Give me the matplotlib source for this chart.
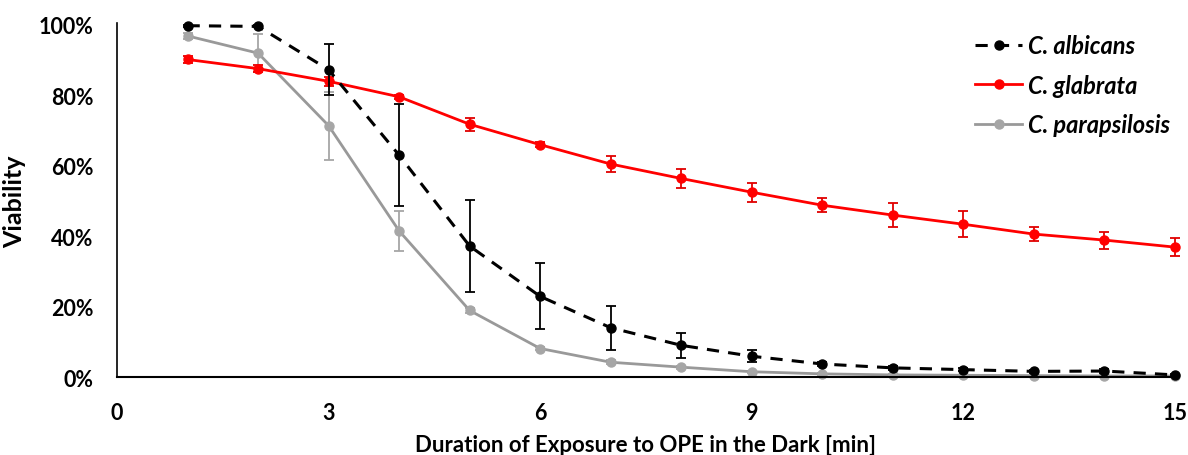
import matplotlib
matplotlib.use("Agg")
import matplotlib.pyplot as plt
from matplotlib.lines import Line2D
from matplotlib.ticker import FuncFormatter

# Exposure time in minutes
minutes = [1, 2, 3, 4, 5, 6, 7, 8, 9, 10, 11, 12, 13, 14, 15]

# Viability (%) and standard deviation for each species
albicans = [99.8, 99.6, 87.3, 63.0, 37.2, 22.9, 14.0, 9.0, 5.9, 3.7, 2.6, 2.1, 1.6, 1.7, 0.6]
albicans_err = [0.3, 0.3, 7.2, 14.5, 13.0, 9.4, 6.3, 3.5, 1.7, 0.6, 0.5, 0.5, 0.4, 0.5, 0.3]

glabrata = [90.2, 87.6, 84.0, 79.6, 71.8, 66.0, 60.5, 56.4, 52.5, 48.8, 46.0, 43.4, 40.6, 38.9, 36.9]
glabrata_err = [1.0, 0.9, 1.2, 0.5, 1.9, 0.8, 2.2, 2.8, 2.7, 2.0, 3.4, 3.7, 2.1, 2.4, 2.6]

parapsilosis = [96.9, 92.0, 71.4, 41.5, 18.9, 8.1, 4.2, 2.8, 1.5, 0.9, 0.6, 0.5, 0.4, 0.3, 0.3]
parapsilosis_err = [0.8, 5.3, 9.7, 5.7, 0.6, 0.5, 0.5, 0.4, 0.3, 0.2, 0.2, 0.2, 0.2, 0.2, 0.2]

species = ["C. albicans", "C. glabrata", "C. parapsilosis"]
x_ticks = [0, 3, 6, 9, 12, 15]
y_ticks = [0, 20, 40, 60, 80, 100]

FONT = ["Lato", "DejaVu Sans"]
plt.rcParams["font.family"] = FONT

fig = plt.figure(figsize=(11.88, 4.56), dpi=100)
ax = fig.add_axes([0.0985, 0.171, 0.8905, 0.772])

ms = 6.5
cap = 3.6
GRAY_LINE = "#999999"
GRAY_MARK = "#A6A6A6"
DASH = (0, (4, 3))

styles = {
    "C. parapsilosis": dict(color=GRAY_LINE, lw=2.0, ls="-", mfc=GRAY_MARK, mec=GRAY_MARK,
                            ecolor=GRAY_MARK, z=2),
    "C. glabrata": dict(color="#FF0000", lw=2.0, ls="-", mfc="#FF0000", mec="#FF0000",
                        ecolor="#E00000", z=3),
    "C. albicans": dict(color="black", lw=2.2, ls=DASH, mfc="black", mec="black",
                        ecolor="black", z=4),
}
series = {
    "C. albicans": (albicans, albicans_err),
    "C. glabrata": (glabrata, glabrata_err),
    "C. parapsilosis": (parapsilosis, parapsilosis_err),
}

for name in ["C. parapsilosis", "C. glabrata", "C. albicans"]:
    vals, errs = series[name]
    st = styles[name]
    cont = ax.errorbar(minutes, vals, yerr=errs, color=st["color"], lw=st["lw"], ls=st["ls"],
                       marker="o", ms=ms, mfc=st["mfc"], mec=st["mec"], ecolor=st["ecolor"],
                       elinewidth=1.3, capsize=cap, capthick=1.3, zorder=st["z"])
    for artist in [cont.lines[0], *cont.lines[1], *cont.lines[2]]:
        artist.set_clip_on(False)

ax.set_xlim(0, 15)
ax.set_ylim(0, 100)
ax.set_xticks(x_ticks)
ax.set_yticks(y_ticks)
ax.yaxis.set_major_formatter(FuncFormatter(lambda v, _: f"{v:.0f}%"))
ax.tick_params(length=0, labelsize=15.5)
ax.tick_params(axis="x", pad=18)
ax.tick_params(axis="y", pad=17)
for lab in ax.get_xticklabels() + ax.get_yticklabels():
    lab.set_fontweight("bold")

for side in ("top", "right"):
    ax.spines[side].set_visible(False)
ax.spines["left"].set_linewidth(1.2)
ax.spines["bottom"].set_linewidth(1.5)
ax.spines["left"].set_bounds(0, 100.5)

ax.set_xlabel("Duration of Exposure to OPE in the Dark [min]", fontsize=16,
              fontweight="bold", labelpad=8)
ax.set_ylabel("Viability", fontsize=18, fontweight="bold", labelpad=9)

handles = []
for name in species:
    st = styles[name]
    handles.append(Line2D([], [], color=st["color"], lw=st["lw"], ls=st["ls"], marker="o",
                          ms=ms, mfc=st["mfc"], mec=st["mec"]))
ax.legend(handles, species, loc="upper left", bbox_to_anchor=(975 / 1188, 1 - 35 / 456),
          bbox_transform=fig.transFigure, frameon=False, borderaxespad=0, borderpad=0,
          prop={"family": FONT, "weight": "bold", "style": "italic", "size": 17},
          handlelength=2.0, handletextpad=0.25, labelspacing=0.7)

fig.savefig("out.png", dpi=100, facecolor="white")
